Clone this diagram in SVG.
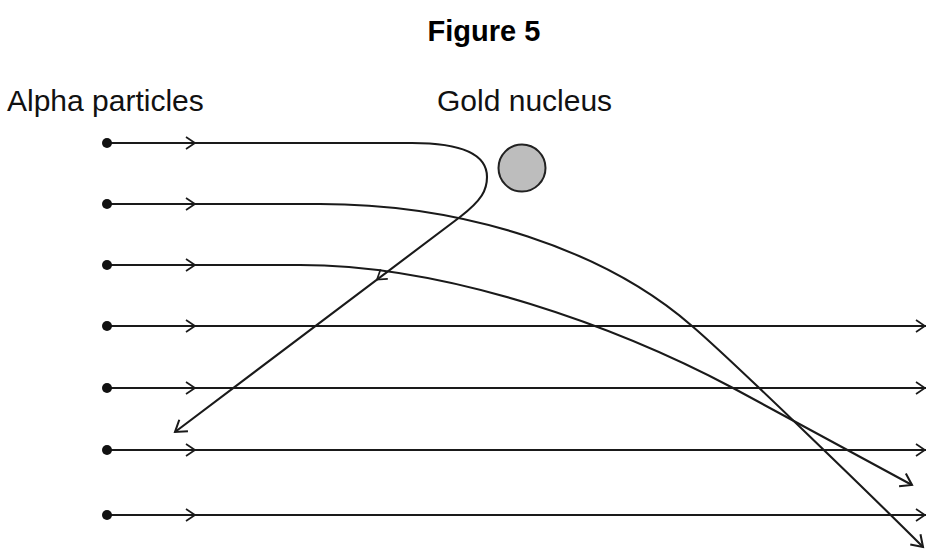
<svg xmlns="http://www.w3.org/2000/svg" xmlns:xlink="http://www.w3.org/1999/xlink" width="926" height="549" viewBox="0 0 926 549">
<style>
.ln{fill:none;stroke:#1a1a1a;stroke-width:2.1}
.ch{fill:none;stroke:#1a1a1a;stroke-width:1.7;stroke-linejoin:miter}
.dot{fill:#111}
.lbl{font-family:"Liberation Sans",Arial,sans-serif;font-size:30px;fill:#111}
.ttl{font-family:"Liberation Sans",Arial,sans-serif;font-size:29px;font-weight:bold;fill:#000}
</style>
<defs>
<path id="chev" d="M-9,-6 L0,0 L-9,6"/>
</defs>
<rect width="926" height="549" fill="#fff"/>
<text class="ttl" x="484" y="41" text-anchor="middle">Figure 5</text>
<text id="alpha-label" class="lbl" x="7" y="111">Alpha particles</text>
<text id="gold-label" class="lbl" x="437" y="111">Gold nucleus</text>
<g id="gold-nucleus">
<circle cx="522" cy="168" r="23.5" fill="#bdbdbd" stroke="#222" stroke-width="2"/>
</g>
<g id="connectors">
<path class="ln" d="M107,143 L412,143 C462,143 487,155 487,177 C487,190 482,200 460,217 L175,432"/>
<path class="ln" d="M107,204 L320,204 C465,204 605,250 692,326 C732,360 883,507 923,547"/>
<path class="ln" d="M107,265 L300,265 C450,265 620,328 733,388 L912,485"/>
<path class="ln" d="M107,326 L926,326"/>
<path class="ln" d="M107,388 L926,388"/>
<path class="ln" d="M107,450 L926,450"/>
<path class="ln" d="M107,515 L926,515"/>
</g>
<g id="arrows">
<use xlink:href="#chev" class="ch" transform="translate(195,143)"/>
<use xlink:href="#chev" class="ch" transform="translate(195,204)"/>
<use xlink:href="#chev" class="ch" transform="translate(195,265)"/>
<use xlink:href="#chev" class="ch" transform="translate(195,326)"/>
<use xlink:href="#chev" class="ch" transform="translate(195,388)"/>
<use xlink:href="#chev" class="ch" transform="translate(195,450)"/>
<use xlink:href="#chev" class="ch" transform="translate(195,515)"/>
<use xlink:href="#chev" class="ch" transform="translate(925,326)"/>
<use xlink:href="#chev" class="ch" transform="translate(925,388)"/>
<use xlink:href="#chev" class="ch" transform="translate(925,450)"/>
<use xlink:href="#chev" class="ch" transform="translate(925,515)"/>
<use xlink:href="#chev" class="ch" transform="translate(377,279.5) rotate(143)"/>
<use xlink:href="#chev" class="ch" transform="translate(175,432) rotate(143) scale(1.2)"/>
<use xlink:href="#chev" class="ch" transform="translate(912,485) rotate(28) scale(1.2)"/>
<use xlink:href="#chev" class="ch" transform="translate(923,547) rotate(45) scale(1.2)"/>
</g>
<g id="sources">
<circle class="dot" cx="107" cy="143" r="5"/>
<circle class="dot" cx="107" cy="204" r="5"/>
<circle class="dot" cx="107" cy="265" r="5"/>
<circle class="dot" cx="107" cy="326" r="5"/>
<circle class="dot" cx="107" cy="388" r="5"/>
<circle class="dot" cx="107" cy="450" r="5"/>
<circle class="dot" cx="107" cy="515" r="5"/>
</g>
</svg>
